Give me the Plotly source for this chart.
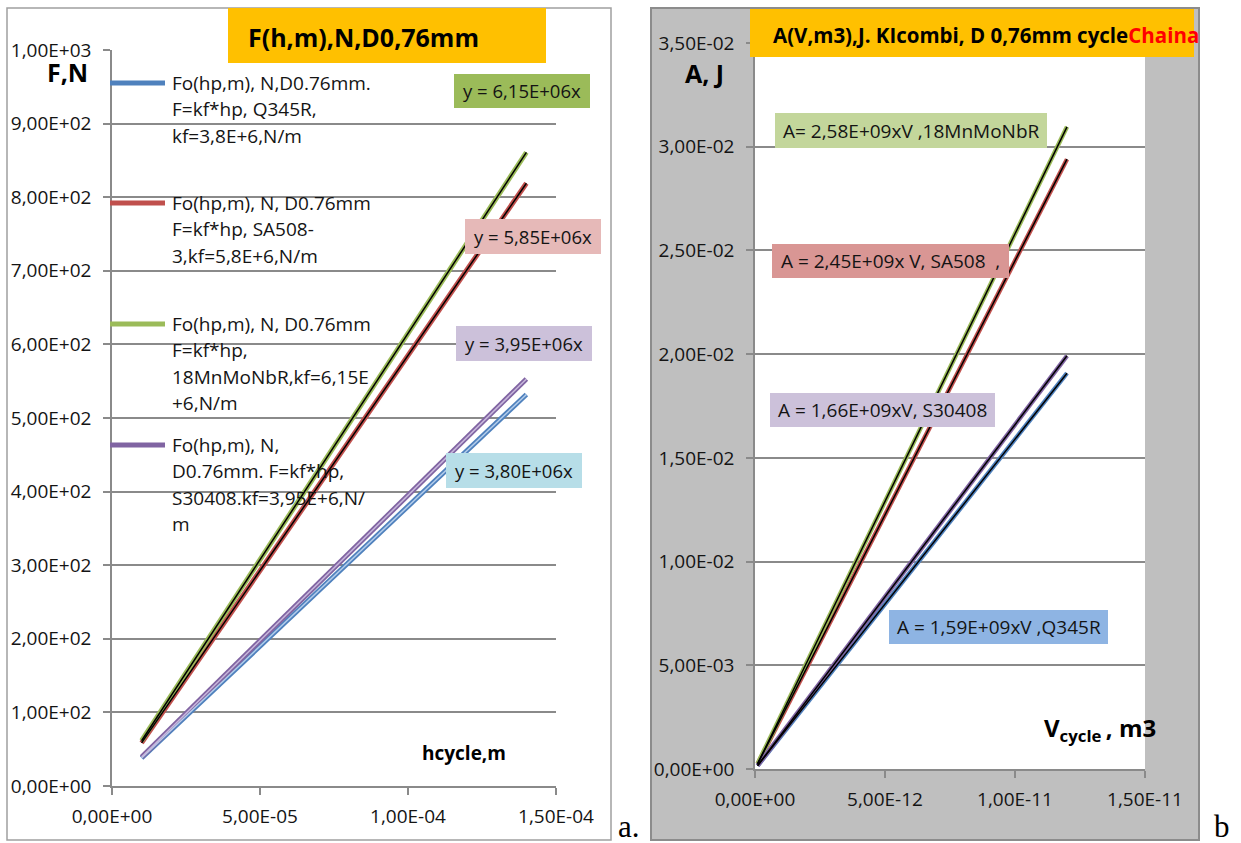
import plotly.graph_objects as go

W, H = 1241, 843

# ---- panel a: force vs cycle displacement ----
h_cycle = [1.0e-5, 1.4e-4]
F_Q345R = [38.0, 532.0]
F_SA508 = [58.5, 819.0]
F_18MnMoNbR = [61.5, 861.0]
F_S30408 = [39.5, 553.0]

kf_slopes = [3.80e6, 5.85e6, 6.15e6, 3.95e6]
kf_labels = ["y = 3,80E+06x", "y = 5,85E+06x", "y = 6,15E+06x", "y = 3,95E+06x"]

legend_a = [
    ["Fo(hp,m), N,D0.76mm.", "F=kf*hp, Q345R,", "kf=3,8E+6,N/m"],
    ["Fo(hp,m), N, D0.76mm", "F=kf*hp, SA508-", "3,kf=5,8E+6,N/m"],
    ["Fo(hp,m), N, D0.76mm", "F=kf*hp,", "18MnMoNbR,kf=6,15E", "+6,N/m"],
    ["Fo(hp,m), N,", "D0.76mm. F=kf*hp,", "S30408.kf=3,95E+6,N/", "m"],
]

xa_tickvals = [0.0, 5e-5, 1e-4, 1.5e-4]
xa_ticktext = ["0,00E+00", "5,00E-05", "1,00E-04", "1,50E-04"]
ya_tickvals = [0, 100, 200, 300, 400, 500, 600, 700, 800, 900, 1000]
ya_ticktext = ["0,00E+00", "1,00E+02", "2,00E+02", "3,00E+02", "4,00E+02", "5,00E+02",
               "6,00E+02", "7,00E+02", "8,00E+02", "9,00E+02", "1,00E+03"]

# ---- panel b: work vs cycle volume ----
V_cycle = [1.0e-13, 1.2e-11]
A_Q345R = [1.59e-4, 1.908e-2]
A_SA508 = [2.45e-4, 2.94e-2]
A_18MnMoNbR = [2.58e-4, 3.096e-2]
A_S30408 = [1.66e-4, 1.992e-2]

kA_slopes = [1.59e9, 2.45e9, 2.58e9, 1.66e9]
kA_labels = ["A = 1,59E+09xV ,Q345R", "A = 2,45E+09x V, SA508  ,",
             "A= 2,58E+09xV ,18MnMoNbR", "A = 1,66E+09xV, S30408"]

xb_tickvals = [0.0, 5e-12, 1e-11, 1.5e-11]
xb_ticktext = ["0,00E+00", "5,00E-12", "1,00E-11", "1,50E-11"]
yb_tickvals = [0.0, 0.005, 0.01, 0.015, 0.02, 0.025, 0.03, 0.035]
yb_ticktext = ["0,00E+00", "5,00E-03", "1,00E-02", "1,50E-02", "2,00E-02",
               "2,50E-02", "3,00E-02", "3,50E-02"]

# series colours: Q345R, SA508, 18MnMoNbR, S30408
line_colors = ["#4F81BD", "#C0504D", "#9BBB59", "#8064A2"]
trend_colors_a = ["#B4CDEB", "#000000", "#000000", "#C8B8DC"]
box_colors_a = ["#B7DEE8", "#E6B9B8", "#9BBB59", "#CCC1DA"]
box_colors_b = ["#8EB4E3", "#D99694", "#C3D69B", "#CCC1DA"]

FONT = "Open Sans"
TXT = "#141414"
GRID = "#8a8a8a"


def px(x):
    return x / W


def py(y):
    return 1 - y / H


fig = go.Figure()

series_a = [F_Q345R, F_SA508, F_18MnMoNbR, F_S30408]
for ys, c in zip(series_a, line_colors):
    fig.add_trace(go.Scatter(x=h_cycle, y=ys, mode="lines", xaxis="x", yaxis="y",
                             line=dict(color=c, width=5), showlegend=False, hoverinfo="skip"))
for k, c in zip(kf_slopes, trend_colors_a):
    fig.add_trace(go.Scatter(x=h_cycle, y=[k * h for h in h_cycle], mode="lines",
                             xaxis="x", yaxis="y", line=dict(color=c, width=1.5),
                             showlegend=False, hoverinfo="skip"))

series_b = [A_Q345R, A_SA508, A_18MnMoNbR, A_S30408]
for ys, c in zip(series_b, line_colors):
    fig.add_trace(go.Scatter(x=V_cycle, y=ys, mode="lines", xaxis="x2", yaxis="y2",
                             line=dict(color=c, width=4.5), showlegend=False, hoverinfo="skip"))
for k in kA_slopes:
    fig.add_trace(go.Scatter(x=V_cycle, y=[k * v for v in V_cycle], mode="lines",
                             xaxis="x2", yaxis="y2", line=dict(color="#000000", width=1.5),
                             showlegend=False, hoverinfo="skip"))

axis_common = dict(showline=True, linecolor=GRID, linewidth=1.5, ticks="outside",
                   ticklen=7, tickcolor=GRID, tickwidth=1.5, zeroline=False,
                   automargin=False,
                   tickfont=dict(family=FONT, size=19, color=TXT), tickmode="array")

shapes = []
annotations = []

# panel a frame
shapes.append(dict(type="rect", xref="paper", yref="paper", x0=px(7), x1=px(611),
                   y0=py(840), y1=py(8), line=dict(color="#a0a0a0", width=1.5),
                   fillcolor="rgba(0,0,0,0)", layer="below"))
# panel b frame and plot area
shapes.append(dict(type="rect", xref="paper", yref="paper", x0=px(651), x1=px(1199),
                   y0=py(840), y1=py(8), line=dict(color="#8c8c8c", width=2),
                   fillcolor="#BFBFBF", layer="below"))
shapes.append(dict(type="rect", xref="x2 domain", yref="y2 domain", x0=0, x1=1,
                   y0=0, y1=1, line=dict(width=0), fillcolor="#FFFFFF", layer="below"))

# titles
shapes.append(dict(type="rect", xref="paper", yref="paper", x0=px(228), x1=px(546),
                   y0=py(63), y1=py(8), line=dict(width=0), fillcolor="#FFC000"))
annotations.append(dict(xref="paper", yref="paper", x=px(246), y=py(37), xanchor="left",
                        yanchor="middle", showarrow=False, text="<b>F(h,m),N,D0,76mm</b>",
                        font=dict(family=FONT, size=25, color="#000")))
shapes.append(dict(type="rect", xref="paper", yref="paper", x0=px(750), x1=px(1194),
                   y0=py(57), y1=py(9), line=dict(width=0), fillcolor="#FFC000"))
annotations.append(dict(xref="paper", yref="paper", x=px(771), y=py(35), xanchor="left",
                        yanchor="middle", showarrow=False,
                        text="<b>A(V,m3),J. KIcombi, D 0,76mm cycle<span style='color:#FF0000'>Chaina</span></b>",
                        font=dict(family=FONT, size=20.5, color="#000")))

# axis captions
annotations.append(dict(xref="paper", yref="paper", x=px(67), y=py(72), xanchor="center",
                        yanchor="middle", showarrow=False, text="<b>F,N</b>",
                        font=dict(family=FONT, size=25, color="#000")))
annotations.append(dict(xref="paper", yref="paper", x=px(704), y=py(73), xanchor="center",
                        yanchor="middle", showarrow=False, text="<b>A, J</b>",
                        font=dict(family=FONT, size=25, color="#000")))
annotations.append(dict(xref="paper", yref="paper", x=px(464), y=py(753), xanchor="center",
                        yanchor="middle", showarrow=False, text="<b>hcycle,m</b>",
                        font=dict(family=FONT, size=19, color="#000")))
annotations.append(dict(xref="paper", yref="paper", x=px(1042), y=py(729), xanchor="left",
                        yanchor="middle", showarrow=False,
                        text="<b>V<sub>cycle </sub>, m3</b>",
                        font=dict(family=FONT, size=24, color="#000")))
annotations.append(dict(xref="paper", yref="paper", x=px(616), y=py(826), xanchor="left",
                        yanchor="middle", showarrow=False, text="a.",
                        font=dict(family="Liberation Serif", size=31, color="#000")))
annotations.append(dict(xref="paper", yref="paper", x=px(1212), y=py(826), xanchor="left",
                        yanchor="middle", showarrow=False, text="b",
                        font=dict(family="Liberation Serif", size=31, color="#000")))

# legend of panel a
legend_y0 = [83, 203, 324, 445]
for lines, c, y0 in zip(legend_a, line_colors, legend_y0):
    shapes.append(dict(type="line", xref="paper", yref="paper", x0=px(110), x1=px(165),
                       y0=py(y0), y1=py(y0), line=dict(color=c, width=5)))
    for i, t in enumerate(lines):
        annotations.append(dict(xref="paper", yref="paper", x=px(170), y=py(y0 + 26.4 * i),
                                xanchor="left", yanchor="middle", showarrow=False, text=t,
                                font=dict(family=FONT, size=19, color=TXT)))

# equation labels
boxes_a = [(446, 582, 453, 488), (465, 601, 219, 254), (454, 590, 74, 108), (456, 592, 326, 361)]
for t, c, (x0, x1, y0, y1) in zip(kf_labels, box_colors_a, boxes_a):
    shapes.append(dict(type="rect", xref="paper", yref="paper", x0=px(x0), x1=px(x1),
                       y0=py(y1), y1=py(y0), line=dict(width=0), fillcolor=c))
    annotations.append(dict(xref="paper", yref="paper", x=px((x0 + x1) / 2), y=py((y0 + y1) / 2),
                            xanchor="center", yanchor="middle", showarrow=False, text=t,
                            font=dict(family=FONT, size=18.5, color=TXT)))
boxes_b = [(889, 1108, 610, 644), (772, 1009, 244, 278), (775, 1047, 113, 148), (770, 995, 393, 427)]
for t, c, (x0, x1, y0, y1) in zip(kA_labels, box_colors_b, boxes_b):
    shapes.append(dict(type="rect", xref="paper", yref="paper", x0=px(x0), x1=px(x1),
                       y0=py(y1), y1=py(y0), line=dict(width=0), fillcolor=c))
    annotations.append(dict(xref="paper", yref="paper", x=px((x0 + x1) / 2), y=py((y0 + y1) / 2),
                            xanchor="center", yanchor="middle", showarrow=False, text=t,
                            font=dict(family=FONT, size=19, color=TXT)))

fig.update_layout(
    width=W, height=H, margin=dict(l=0, r=0, t=0, b=0, autoexpand=False),
    paper_bgcolor="#FFFFFF", plot_bgcolor="rgba(0,0,0,0)",
    showlegend=False,
    xaxis=dict(domain=[px(112), px(556)], range=[0, 1.5e-4], tickvals=xa_tickvals,
               ticktext=xa_ticktext, showgrid=False, anchor="y", ticklabelstandoff=5,
               **axis_common),
    yaxis=dict(domain=[py(786), py(50)], range=[0, 1000], tickvals=ya_tickvals,
               ticktext=ya_ticktext, showgrid=True, gridcolor=GRID, gridwidth=1.5,
               anchor="x", ticklabelstandoff=8, **axis_common),
    xaxis2=dict(domain=[px(755), px(1145)], range=[0, 1.5e-11], tickvals=xb_tickvals,
                ticktext=xb_ticktext, showgrid=False, anchor="y2", ticklabelstandoff=5,
                **axis_common),
    yaxis2=dict(domain=[py(769), py(43)], range=[0, 0.035], tickvals=yb_tickvals,
                ticktext=yb_ticktext, showgrid=True, gridcolor=GRID, gridwidth=1.5,
                anchor="x2", ticklabelstandoff=8, **axis_common),
    shapes=shapes,
    annotations=annotations,
)

fig.write_html("out.html")
